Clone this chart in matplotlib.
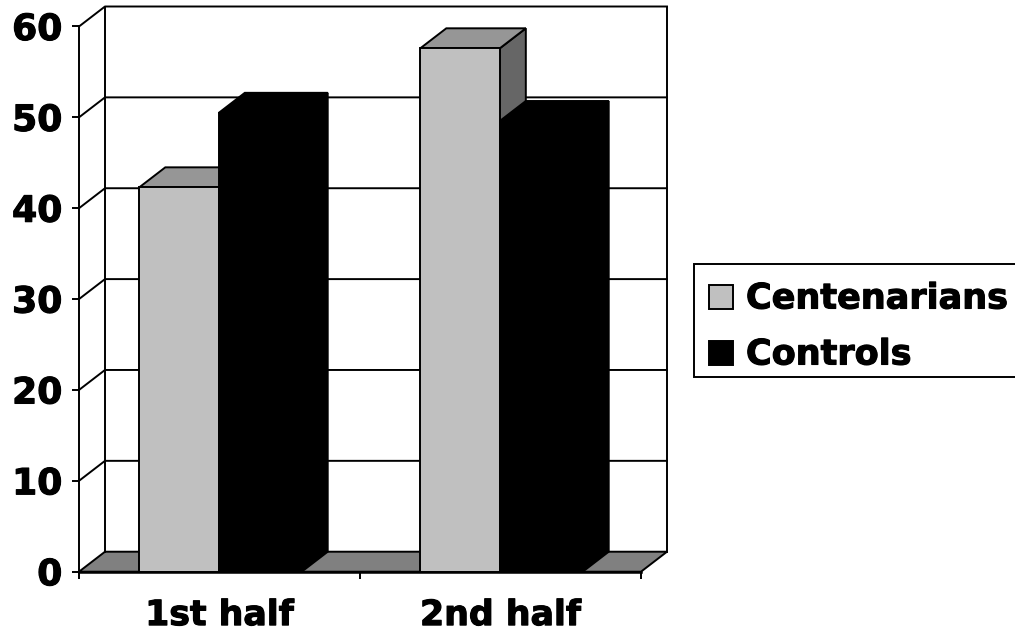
import matplotlib
matplotlib.use("Agg")
import matplotlib.pyplot as plt
import matplotlib.patheffects as pe
from matplotlib.patches import Polygon, Rectangle

categories = ["1st half", "2nd half"]
centenarians = [42.3, 57.6]
controls = [50.5, 49.6]
y_ticks = [0, 10, 20, 30, 40, 50, 60]

W, H = 1015, 634
DX = 0.0925   # depth of the fake 3d box, in category units
DY = 2.2      # same, in value units
FONT = "DejaVu Sans"
heavy = [pe.withStroke(linewidth=0.8, foreground="black")]

fig = plt.figure(figsize=(W / 100, H / 100), dpi=100)
ax = fig.add_axes([79 / W, 1 - 571.7 / H, 588 / W, 565.2 / H])
ax.set_xlim(0, 2 + DX)
ax.set_ylim(0, 60 + DY)
for s in ax.spines.values():
    s.set_visible(False)

lw = 1.4


def poly(pts, color, z, edge="black"):
    ax.add_patch(Polygon(pts, closed=True, fc=color, ec=edge, lw=lw, zorder=z, clip_on=False))


def bar3d(x0, w, v, z):
    color = "#c0c0c0" if z == 3 else "black"
    poly([(x0 + w, 0), (x0 + w + DX, DY), (x0 + w + DX, v + DY), (x0 + w, v)],
         "#666666" if z == 3 else "black", z)
    poly([(x0, v), (x0 + DX, v + DY), (x0 + w + DX, v + DY), (x0 + w, v)],
         "#969696" if z == 3 else "black", z)
    poly([(x0, 0), (x0 + w, 0), (x0 + w, v), (x0, v)], color, z)


# floor and walls
poly([(0, 0), (DX, DY), (2 + DX, DY), (2, 0)], "#808080", 1)
for t in y_ticks[1:]:
    ax.plot([0, DX, 2 + DX], [t, t + DY, t + DY], color="black", lw=lw, zorder=2, clip_on=False)
ax.plot([0, 0], [0, 60], color="black", lw=lw, zorder=2, clip_on=False)
ax.plot([DX, DX], [DY, 60 + DY], color="black", lw=lw, zorder=2, clip_on=False)
ax.plot([2 + DX, 2 + DX], [DY, 60 + DY], color="black", lw=lw, zorder=2, clip_on=False)
ax.plot([0, 2], [0, 0], color="black", lw=lw * 1.3, zorder=6, clip_on=False)

# columns, left to right so each one covers the side of the previous
for i in range(len(categories)):
    bar3d(i + 0.2146, 0.283, centenarians[i], 3)
    bar3d(i + 0.4976, 0.295, controls[i], 4)

ax.set_xticks([0, 1, 2])
ax.set_xticklabels([])
ax.set_xticks([0.5, 1.5], categories, minor=True)
ax.tick_params(axis="x", which="major", length=5, width=lw)
ax.tick_params(axis="x", which="minor", length=0, pad=19, labelsize=25)
ax.set_yticks(y_ticks, [str(t) for t in y_ticks])
ax.tick_params(axis="y", length=5, width=lw, pad=7, labelsize=26)
for lab in ax.get_xticklabels(minor=True) + ax.get_yticklabels():
    lab.set_fontfamily(FONT)
    lab.set_fontweight("bold")
    lab.set_path_effects(heavy)

# legend box runs off the right edge
fig.add_artist(Rectangle((694 / W, 1 - 376.5 / H), 340 / W, 112.5 / H, transform=fig.transFigure,
                         fc="white", ec="black", lw=lw))
fig.add_artist(Rectangle((708.5 / W, 1 - 308.5 / H), 24 / W, 24 / H, transform=fig.transFigure,
                         fc="#c0c0c0", ec="black", lw=lw))
fig.add_artist(Rectangle((708.5 / W, 1 - 364.5 / H), 24 / W, 24 / H, transform=fig.transFigure,
                         fc="black", ec="black", lw=lw))
fig.text(746 / W, 1 - 295 / H, "Centenarians", fontsize=25.2, fontweight="bold", family=FONT,
         va="center_baseline", path_effects=heavy)
fig.text(746 / W, 1 - 351 / H, "Controls", fontsize=25.2, fontweight="bold", family=FONT,
         va="center_baseline", path_effects=heavy)

fig.savefig("out.png", dpi=100)
